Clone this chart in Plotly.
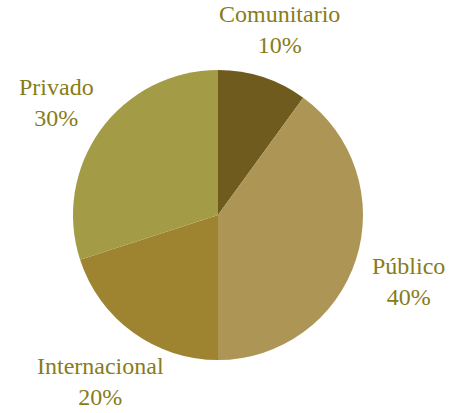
import math
import plotly.graph_objects as go

# Funding sources share
labels = ["Comunitario", "Público", "Internacional", "Privado"]
values = [10, 40, 20, 30]
colors = ["#6f5b1e", "#ad9555", "#9e8431", "#a39b46"]

W, H = 451, 413
# pie placement in pixels (centre and radius) -> domain fractions
CX, CY, R = 218, 215, 145
LABEL_R = 200   # radius at which category labels are centred
LABEL_DY = 5    # small downward nudge so the two-line block sits visually centred

dom_x = [(CX - R) / W, (CX + R) / W]
dom_y = [1 - (CY + R) / H, 1 - (CY - R) / H]

fig = go.Figure(
    go.Pie(
        labels=labels,
        values=values,
        sort=False,
        direction="clockwise",
        rotation=0,
        marker=dict(colors=colors, line=dict(width=0)),
        textinfo="none",
        hoverinfo="label+percent",
        showlegend=False,
        domain=dict(x=dom_x, y=dom_y),
    )
)

# labels sit on each slice's bisector, outside the pie
total = sum(values)
annotations = []
cum = 0
for lab, v in zip(labels, values):
    mid = (cum + v / 2) / total * 2 * math.pi  # clockwise from 12 o'clock
    cum += v
    px = CX + LABEL_R * math.sin(mid)
    py = CY - LABEL_R * math.cos(mid) + LABEL_DY
    annotations.append(
        dict(
            x=px / W,
            y=1 - py / H,
            xref="paper",
            yref="paper",
            xanchor="center",
            yanchor="middle",
            showarrow=False,
            align="center",
            text=f"{lab}<br>{round(v / total * 100)}%",
            font=dict(family="Liberation Serif", size=24, color="#877c1b"),
        )
    )

fig.update_layout(
    width=W,
    height=H,
    margin=dict(l=0, r=0, t=0, b=0),
    paper_bgcolor="white",
    plot_bgcolor="white",
    annotations=annotations,
)

fig.write_html("out.html")
